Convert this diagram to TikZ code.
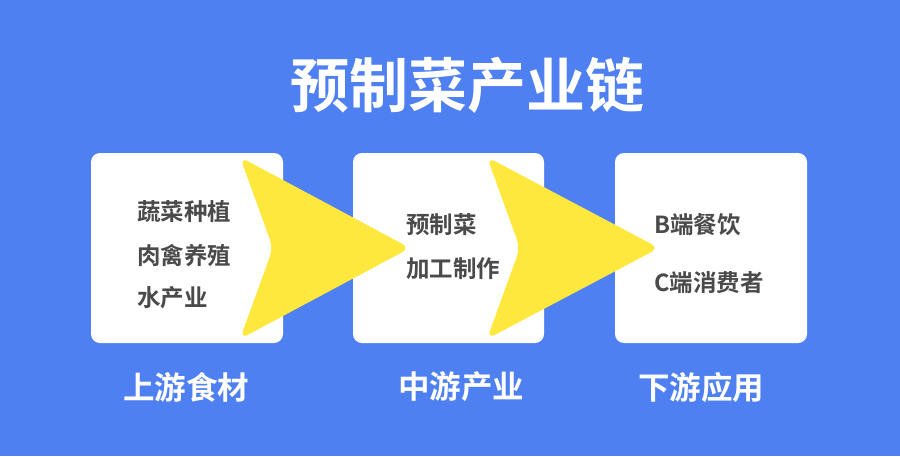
\documentclass[tikz,border=0pt]{standalone}
\usepackage{fontspec}
\newfontfamily\cjk{Noto Sans CJK SC}
\newfontfamily\cjkb{Noto Sans CJK SC Bold}
\definecolor{bgblue}{HTML}{4F80F2}
\definecolor{chev}{HTML}{FFE83E}
\definecolor{txtgray}{HTML}{4A4A4A}
\begin{document}
\begin{tikzpicture}[x=1pt,y=-1pt,
  card/.style={fill=white,rounded corners=9pt},
  chevron/.style={fill=chev,rounded corners=9pt},
  item/.style={anchor=west,inner sep=0pt,text=txtgray,font=\cjkb\fontsize{23.5}{23.5}\selectfont},
  stage/.style={inner sep=0pt,text=white,font=\cjkb\fontsize{31.5}{31.5}\selectfont},
  title/.style={inner sep=0pt,text=white,font=\cjkb\fontsize{59}{59}\selectfont}]
\fill[bgblue] (0,0) rectangle (900,456);
\useasboundingbox (0,0) rectangle (900,456);
% cards
\fill[card] (91,153) rectangle (283,343);
\fill[card] (353,153) rectangle (544,343);
\fill[card] (615,153) rectangle (807,343);
\node[inner sep=0pt] (b1) at (187,248) {};
\node[inner sep=0pt] (b2) at (448,248) {};
\node[inner sep=0pt] (b3) at (711,248) {};
% chevrons
\fill[chevron] (240,157) -- (410,248) -- (240,339) -- (273,248) -- cycle;
\fill[chevron] (487,157) -- (659,248) -- (487,339) -- (520,248) -- cycle;
% title
\node[title] (t) at (467,85) {预制菜产业链};
% items
\node[item] (a1) at (137,212) {蔬菜种植};
\node[item] (a2) at (137,256) {肉禽养殖};
\node[item] (a3) at (137,298) {水产业};
\node[item] (m1) at (406,225) {预制菜};
\node[item] (m2) at (406,269) {加工制作};
\node[item] (c1) at (654,225) {B端餐饮};
\node[item] (c2) at (654,283) {C端消费者};
% stage labels
\node[stage] (s1) at (186,387) {上游食材};
\node[stage] (s2) at (461,387) {中游产业};
\node[stage] (s3) at (701,387) {下游应用};
\end{tikzpicture}
\end{document}
